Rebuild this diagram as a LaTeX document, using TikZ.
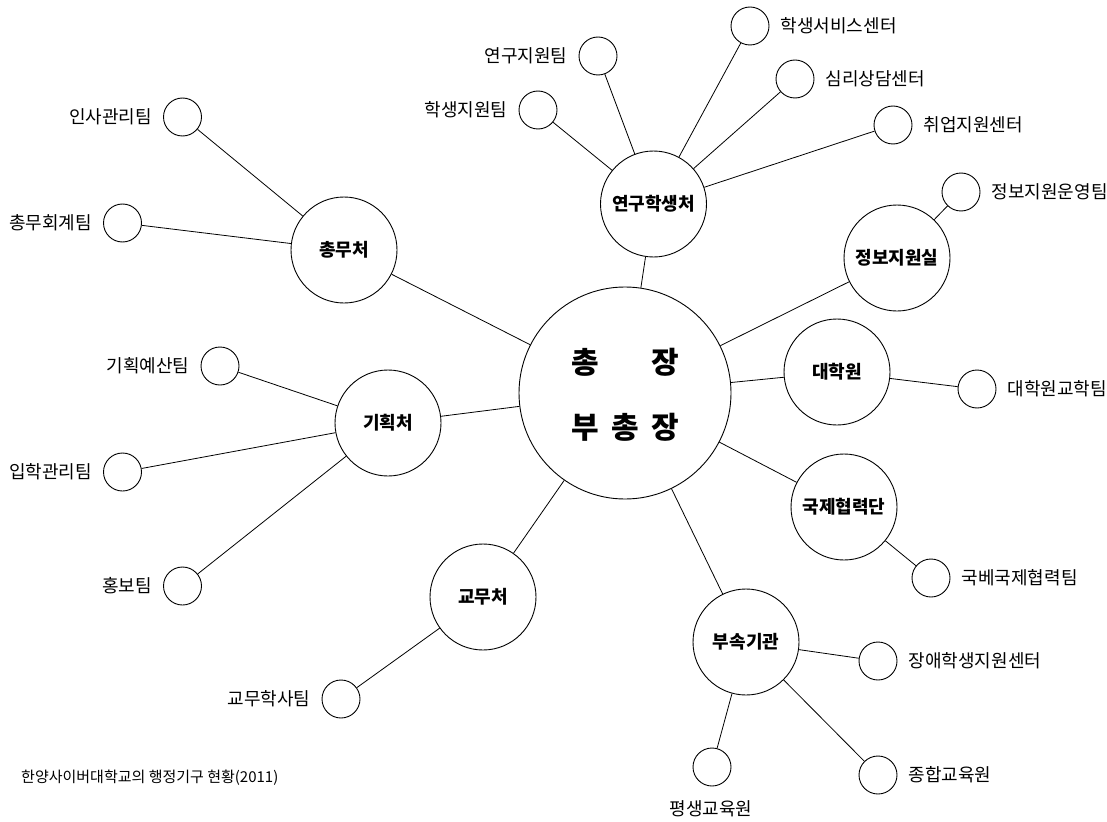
\documentclass[tikz,border=0pt]{standalone}
\usepackage{fontspec}
\usetikzlibrary{positioning}
\setmainfont{Noto Sans CJK KR}
\begin{document}
\begin{tikzpicture}[x=1pt,y=-1pt,
  every node/.style={font=\fontsize{18}{21}\selectfont},
  big/.style={circle,draw,line width=0.9pt,minimum size=212pt,inner sep=0pt},
  ctext/.style={inner sep=0pt,font=\fontsize{30}{36}\selectfont\bfseries},
  mid/.style={circle,draw,line width=0.9pt,minimum size=106pt,inner sep=0pt,font=\fontsize{18}{21}\selectfont\bfseries},
  sm/.style={circle,draw,line width=0.9pt,minimum size=38pt,inner sep=0pt},
  lbl/.style={inner sep=0pt,font=\fontsize{18}{21}\selectfont},
  link/.style={line width=0.8pt}]
\useasboundingbox (0,0) rectangle (1107,821);
\fill[white] (0,0) rectangle (1107,821);
% center
\node[big] (c) at (625,393) {};
\node[ctext] (c1) at (625,362) {\makebox[40pt]{총}\makebox[40pt]{}\makebox[40pt]{장}};
\node[ctext] (c2) at (625,427) {\makebox[40pt]{부}\makebox[40pt]{총}\makebox[40pt]{장}};
% middle
\node[mid] (m1) at (344,250) {총무처};
\node[mid] (m2) at (653.5,204) {연구학생처};
\node[mid] (m3) at (897,258) {정보지원실};
\node[mid] (m4) at (837,372) {대학원};
\node[mid] (m5) at (388,423) {기획처};
\node[mid] (m6) at (844,507) {국제협력단};
\node[mid] (m7) at (483,597) {교무처};
\node[mid] (m8) at (746,642) {부속기관};
% small
\node[sm] (s1) at (182.5,117) {};
\node[lbl,left=11pt of s1] (t1) {인사관리팀};
\node[sm] (s2) at (122.5,223) {};
\node[lbl,left=11pt of s2] (t2) {총무회계팀};
\node[sm] (s3) at (598,56) {};
\node[lbl,left=11pt of s3] (t3) {연구지원팀};
\node[sm] (s4) at (538,110) {};
\node[lbl,left=11pt of s4] (t4) {학생지원팀};
\node[sm] (s5) at (750,26) {};
\node[lbl,right=11pt of s5] (t5) {학생서비스센터};
\node[sm] (s6) at (795,79) {};
\node[lbl,right=11pt of s6] (t6) {심리상담센터};
\node[sm] (s7) at (893,125) {};
\node[lbl,right=11pt of s7] (t7) {취업지원센터};
\node[sm] (s8) at (961,192) {};
\node[lbl,right=11pt of s8] (t8) {정보지원운영팀};
\node[sm] (s9) at (977,389) {};
\node[lbl,right=11pt of s9] (t9) {대학원교학팀};
\node[sm] (s10) at (220,366) {};
\node[lbl,left=11pt of s10] (t10) {기획예산팀};
\node[sm] (s11) at (122.5,472) {};
\node[lbl,left=11pt of s11] (t11) {입학관리팀};
\node[sm] (s12) at (182.5,586) {};
\node[lbl,left=11pt of s12] (t12) {홍보팀};
\node[sm] (s13) at (931,578) {};
\node[lbl,right=11pt of s13] (t13) {국베국제협력팀};
\node[sm] (s14) at (341,699) {};
\node[lbl,left=11pt of s14] (t14) {교무학사팀};
\node[sm] (s15) at (878,661) {};
\node[lbl,right=11pt of s15] (t15) {장애학생지원센터};
\node[sm] (s16) at (712,767) {};
\node[lbl] (t16) at (711,809) {평생교육원};
\node[sm] (s17) at (878,775) {};
\node[lbl,right=11pt of s17] (t17) {종합교육원};
% caption
\node[inner sep=0pt,anchor=west,font=\fontsize{15}{18}\selectfont] (cap) at (21,778) {한양사이버대학교의 행정기구 현황(2011)};
% links
\foreach \m in {m1,m2,m3,m4,m5,m6,m7,m8} \draw[link] (c) -- (\m);
\draw[link] (m1) -- (s1); \draw[link] (m1) -- (s2);
\foreach \s in {s3,s4,s5,s6,s7} \draw[link] (m2) -- (\s);
\draw[link] (m3) -- (s8);
\draw[link] (m4) -- (s9);
\foreach \s in {s10,s11,s12} \draw[link] (m5) -- (\s);
\draw[link] (m6) -- (s13);
\draw[link] (m7) -- (s14);
\foreach \s in {s15,s16,s17} \draw[link] (m8) -- (\s);
\end{tikzpicture}
\end{document}
